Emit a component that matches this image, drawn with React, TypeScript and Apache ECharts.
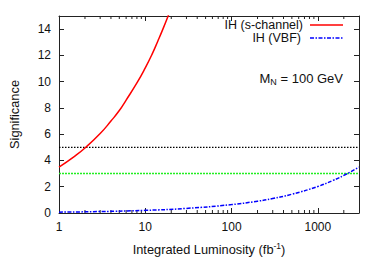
import React, { useEffect, useRef } from "react";
import * as echarts from "echarts";

const lumiS = [1, 1.5, 2, 3, 4, 5, 6, 8, 10, 12, 14, 16, 18.4, 20];
const sigS = [3.5, 4.3, 4.95, 6.05, 7.0, 7.8, 8.6, 9.9, 11.05, 12.1, 13.1, 14.0, 15.0, 15.65];
const lumiV = [1, 3, 10, 30, 100, 200, 300, 500, 1000, 1500, 2000, 3000];
const sigV = [0.064, 0.11, 0.2, 0.35, 0.64, 0.9, 1.1, 1.43, 2.02, 2.48, 2.86, 3.5];
const fiveSigma = 5;
const threeSigma = 3;
const xRange = [1, 3000];
const minorTicks = [2, 3, 4, 5, 6, 7, 8, 9, 20, 30, 40, 50, 60, 70, 80, 90, 200, 300, 400, 500, 600, 700, 800, 900, 2000];
const seriesNames = ["IH (s-channel)", "IH (VBF)"];

export default function App() {
  const ref = useRef<HTMLDivElement>(null);
  useEffect(() => {
    const chart = echarts.init(ref.current!, null, { renderer: "svg" });
    const font = "Liberation Sans, Arial, sans-serif";
    const axisColor = "#222";
    const red = "#ff0000";
    const blue = "#0000ff";
    const blueDash = [4, 1.5, 1.5, 1.5];
    const xBase = {
      type: "log",
      logBase: 10,
      min: xRange[0],
      max: xRange[1],
      axisLine: { onZero: false, lineStyle: { color: axisColor, width: 1 } },
      axisTick: { inside: true, length: 5, lineStyle: { color: axisColor } },
      splitLine: { show: false },
    };
    const yBase = {
      type: "value",
      min: 0,
      max: 15,
      interval: 2,
      axisLine: { show: true, onZero: false, lineStyle: { color: axisColor, width: 1 } },
      axisTick: { show: true, inside: true, length: 5, lineStyle: { color: axisColor } },
      splitLine: { show: false },
    };
    chart.setOption({
      animation: false,
      textStyle: { fontFamily: font },
      grid: { left: 55, right: 23, top: 16, bottom: 54 },
      xAxis: [
        {
          ...xBase,
          name: "{a|Integrated Luminosity (fb}{s|-1}{a|)}",
          nameLocation: "middle",
          nameGap: 28,
          nameTextStyle: {
            rich: {
              a: { fontFamily: font, fontSize: 12.8, color: "#111" },
              s: { fontFamily: font, fontSize: 8.5, color: "#111", verticalAlign: "top", padding: [0, 0, 8, 0] },
            },
          },
          axisLabel: {
            fontFamily: font,
            fontSize: 12,
            color: "#111",
            margin: 8,
            showMaxLabel: false,
            formatter: (v: number) => String(Math.round(v)),
          },
        },
        {
          ...xBase,
          position: "top",
          axisLabel: { show: false },
        },
      ],
      yAxis: [
        {
          ...yBase,
          name: "Significance",
          nameLocation: "middle",
          nameGap: 38,
          nameTextStyle: { fontFamily: font, fontSize: 12.8, color: "#111" },
          axisLabel: { fontFamily: font, fontSize: 12, color: "#111", margin: 8, showMaxLabel: false },
        },
        {
          ...yBase,
          position: "right",
          axisLabel: { show: false },
        },
      ],
      graphic: [
        {
          type: "text",
          x: 303,
          y: 25,
          style: { text: seriesNames[0], font: `12.5px ${font}`, fill: "#111", textAlign: "right", textVerticalAlign: "middle" },
        },
        {
          type: "line",
          shape: { x1: 310, y1: 25, x2: 343, y2: 25 },
          style: { stroke: red, lineWidth: 1.5 },
        },
        {
          type: "text",
          x: 301,
          y: 38,
          style: { text: seriesNames[1], font: `12.5px ${font}`, fill: "#111", textAlign: "right", textVerticalAlign: "middle" },
        },
        {
          type: "line",
          shape: { x1: 310, y1: 38, x2: 343, y2: 38 },
          style: { stroke: blue, lineWidth: 1.5, lineDash: blueDash },
        },
        {
          type: "text",
          right: 39,
          top: 72,
          style: {
            text: "{a|M}{s|N}{a| = 100 GeV}",
            rich: {
              a: { fontFamily: font, fontSize: 13, fill: "#111" },
              s: { fontFamily: font, fontSize: 9, fill: "#111", verticalAlign: "bottom", padding: [6, 0, 0, 0] },
            },
          },
        },
      ],
      series: [
        {
          type: "custom",
          silent: true,
          xAxisIndex: 0,
          yAxisIndex: 0,
          data: minorTicks.map((v) => [v, 0]),
          renderItem: (params: any, api: any) => {
            const v = api.value(0);
            const b = api.coord([v, 0]);
            const t = api.coord([v, 15]);
            return {
              type: "group",
              children: [
                { type: "line", shape: { x1: b[0], y1: b[1], x2: b[0], y2: b[1] - 3 }, style: { stroke: axisColor, lineWidth: 1 } },
                { type: "line", shape: { x1: t[0], y1: t[1], x2: t[0], y2: t[1] + 3 }, style: { stroke: axisColor, lineWidth: 1 } },
              ],
            };
          },
        },
        {
          name: "5sigma",
          type: "line",
          data: [[xRange[0], fiveSigma], [xRange[1], fiveSigma]],
          symbol: "none",
          lineStyle: { color: "#000", width: 1.2, type: [1.5, 1.5] },
          silent: true,
        },
        {
          name: "3sigma",
          type: "line",
          data: [[xRange[0], threeSigma], [xRange[1], threeSigma]],
          symbol: "none",
          lineStyle: { color: "#22ee22", width: 1.5, type: [2, 1] },
          silent: true,
        },
        {
          name: seriesNames[0],
          type: "line",
          data: lumiS.map((x, i) => [x, sigS[i]]),
          symbol: "none",
          smooth: true,
          clip: true,
          itemStyle: { color: red },
          lineStyle: { color: red, width: 1.5 },
        },
        {
          name: seriesNames[1],
          type: "line",
          data: lumiV.map((x, i) => [x, sigV[i]]),
          symbol: "none",
          smooth: true,
          itemStyle: { color: blue },
          lineStyle: { color: blue, width: 1.5, type: blueDash },
        },
      ],
    });
    return () => chart.dispose();
  }, []);
  return <div ref={ref} style={{ width: 382, height: 267, margin: -8 }} />;
}
